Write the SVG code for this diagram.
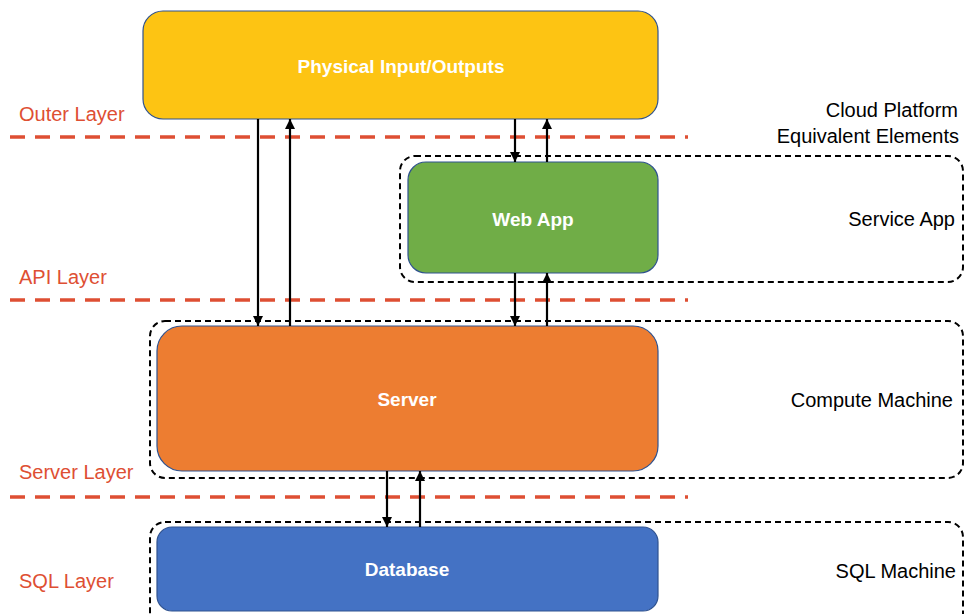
<svg xmlns="http://www.w3.org/2000/svg" width="964" height="614" viewBox="0 0 964 614">
<style>
.layer{stroke:#DE4F33;stroke-width:3.5;stroke-dasharray:15 10;fill:none}
.lt{font-family:"Liberation Sans",Arial,sans-serif;font-size:20px;fill:#DE4F33}
.rt{font-family:"Liberation Sans",Arial,sans-serif;font-size:20px;fill:#000;text-anchor:end}
.cont{fill:none;stroke:#000;stroke-width:2;stroke-dasharray:6 4}
.box{stroke:#2F528F;stroke-width:1.2}
.bt{font-family:"Liberation Sans",Arial,sans-serif;font-size:19px;font-weight:bold;fill:#fff;text-anchor:middle}
.arr{stroke:#000;stroke-width:2.2;fill:none;marker-end:url(#ah)}
</style>
<defs>
<marker id="ah" viewBox="0 0 10 10" refX="10" refY="5" markerWidth="11" markerHeight="10" markerUnits="userSpaceOnUse" orient="auto">
<path d="M0,0 L10,5 L0,10 z" fill="#000"/>
</marker>
</defs>
<rect width="964" height="614" fill="#fff"/>
<g id="layers">
<line class="layer" x1="10" y1="137" x2="688" y2="137"/>
<line class="layer" x1="10" y1="300" x2="688" y2="300"/>
<line class="layer" x1="10" y1="497" x2="688" y2="497"/>
<text class="lt" x="19" y="121">Outer Layer</text>
<text class="lt" x="19" y="284">API Layer</text>
<text class="lt" x="19" y="479">Server Layer</text>
<text class="lt" x="19" y="588">SQL Layer</text>
</g>
<g id="containers">
<rect class="cont" x="400" y="156" width="563" height="126" rx="15"/>
<rect class="cont" x="150" y="321" width="813" height="157" rx="15"/>
<rect class="cont" x="150" y="522" width="813" height="110" rx="15"/>
<text class="rt" x="958" y="117">Cloud Platform</text>
<text class="rt" x="959" y="143">Equivalent Elements</text>
<text class="rt" x="955" y="226">Service App</text>
<text class="rt" x="953" y="407">Compute Machine</text>
<text class="rt" x="956" y="578">SQL Machine</text>
</g>
<g id="physical">
<rect class="box" x="143" y="11" width="515" height="108" rx="20" fill="#FDC413"/>
<text class="bt" x="401" y="73">Physical Input/Outputs</text>
</g>
<g id="webapp">
<rect class="box" x="408" y="162" width="250" height="111" rx="18" fill="#70AD47"/>
<text class="bt" x="533" y="226">Web App</text>
</g>
<g id="server">
<rect class="box" x="157" y="326" width="501" height="145" rx="25" fill="#ED7D31"/>
<text class="bt" x="407" y="406">Server</text>
</g>
<g id="database">
<rect class="box" x="157" y="527" width="501" height="84" rx="15" fill="#4472C4"/>
<text class="bt" x="407" y="576">Database</text>
</g>
<g id="connectors">
<line class="arr" x1="258" y1="119" x2="258" y2="326"/>
<line class="arr" x1="290" y1="326" x2="290" y2="119"/>
<line class="arr" x1="515" y1="119" x2="515" y2="162"/>
<line class="arr" x1="547" y1="162" x2="547" y2="119"/>
<line class="arr" x1="515" y1="273" x2="515" y2="326"/>
<line class="arr" x1="547" y1="326" x2="547" y2="273"/>
<line class="arr" x1="387" y1="471" x2="387" y2="527"/>
<line class="arr" x1="420" y1="527" x2="420" y2="471"/>
</g>
</svg>
